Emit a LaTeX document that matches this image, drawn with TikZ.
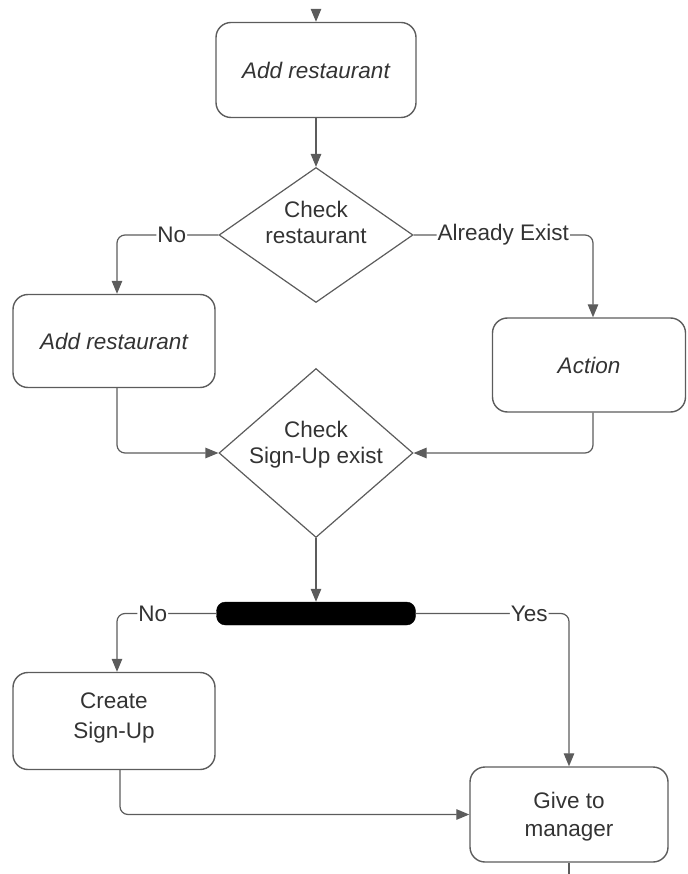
\documentclass[tikz,border=0pt]{standalone}
\usepackage{fontspec}
\setmainfont{Liberation Sans}
\usetikzlibrary{shapes.geometric,arrows.meta}
\definecolor{edge}{HTML}{5C5C5C}
\definecolor{ink}{HTML}{333333}
\newcommand{\twolines}[4]{\raisebox{#1}[0pt][0pt]{\begin{tabular}{@{}c@{}}#3\\[#2]#4\end{tabular}}}
\tikzset{
  every node/.style={font=\fontsize{22.5}{27}\selectfont, text=ink},
  box/.style={draw=edge, line width=1.4pt, rounded corners=15pt,
    inner sep=0pt, align=center},
  decision/.style={draw=edge, line width=1.2pt, diamond, inner sep=0pt,
    align=center},
  flow/.style={draw=edge, line width=1.2pt, rounded corners=8pt,
    -{Triangle[length=13pt,width=10.5pt]}},
  plain/.style={draw=edge, line width=1.2pt, rounded corners=8pt},
  lbl/.style={fill=white, inner sep=1pt},
  bar/.style={fill=black, draw=black, rounded corners=9pt, minimum width=199pt,
    minimum height=23pt, inner sep=0pt},
}
\begin{document}
\begin{tikzpicture}[x=1pt, y=-1pt]
\useasboundingbox (0,0) rectangle (687,874);

% activities and decisions
\node[box, minimum width=200pt, minimum height=95pt] (add1) at (316,70) {\itshape Add restaurant};
\node[decision, minimum width=194pt, minimum height=135pt, aspect=1.44] (chkR) at (316,235)
  {\twolines{5pt}{-1pt}{Check}{restaurant}};
\node[box, minimum width=202pt, minimum height=93pt] (add2) at (114,341) {\itshape Add restaurant};
\node[box, minimum width=193pt, minimum height=94pt] (act) at (589,365) {\itshape Action};
\node[decision, minimum width=194pt, minimum height=169pt, aspect=1.15] (chkS) at (316,453)
  {\twolines{3pt}{-1pt}{Check}{Sign-Up exist}};
\node[bar] (fork) at (316,613.5) {};
\node[box, minimum width=202pt, minimum height=97pt] (create) at (114,721)
  {\twolines{-2pt}{3pt}{Create}{Sign-Up}};
\node[box, minimum width=198pt, minimum height=95pt] (mgr) at (569,814.5)
  {\twolines{-8pt}{1pt}{Give to}{manager}};

% loose ends at the top and bottom
\coordinate (enter) at (316,10);
\coordinate (leave) at (569,874);

% connectors
\draw[flow] (enter) -- (add1.north);
\draw[flow] (add1.south) -- (chkR.north);
\draw[flow] (chkR.west) -| node[lbl, pos=0.23] {No} ([xshift=3pt]add2.north);
\draw[flow] (chkR.east) -| node[lbl, pos=0.25] {Already Exist} ([xshift=4pt]act.north);
\draw[flow] ([xshift=3pt]add2.south) |- (chkS.west);
\draw[flow] ([xshift=4pt]act.south) |- (chkS.east);
\draw[flow] (chkS.south) -- (fork.north);
\draw[flow] (fork.west) -| node[lbl, pos=0.32] {No} ([xshift=3pt]create.north);
\draw[flow] (fork.east) -| node[lbl, pos=0.37] {Yes} (mgr.north);
\draw[flow] ([xshift=6pt]create.south) |- (mgr.west);
\draw[plain] (mgr.south) -- (leave);
\end{tikzpicture}
\end{document}
